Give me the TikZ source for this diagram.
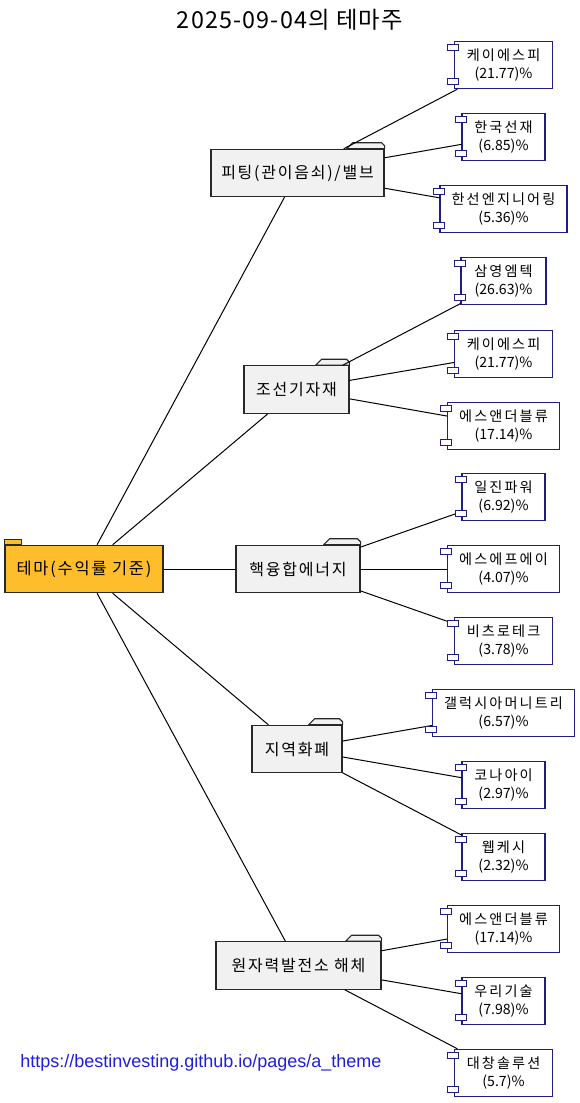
\documentclass[tikz,border=0pt]{standalone}
\usepackage{fontspec}
\setmainfont{Noto Sans CJK KR}
\newfontfamily\krsp[LetterSpace=11]{Noto Sans CJK KR}
\newfontfamily\krleaf[LetterSpace=15]{Noto Sans CJK KR}
\newfontfamily\krtitle[LetterSpace=5]{Noto Sans CJK KR}
\newfontfamily\urlfont{Liberation Sans}
\usetikzlibrary{calc}
\definecolor{rootfill}{RGB}{254,190,44}
\definecolor{foldfill}{RGB}{241,241,241}
\definecolor{foldline}{RGB}{40,40,40}
\definecolor{leafline}{RGB}{30,30,128}
\definecolor{urlblue}{RGB}{30,30,220}
\begin{document}
\begin{tikzpicture}[x=0.75pt,y=-0.75pt,
  conn/.style={draw=black, line width=0.75pt},
  fold/.style={draw=foldline, fill=foldfill, line width=0.85pt, inner sep=0pt,
    font=\krsp\fontsize{12}{14}\selectfont, minimum height=35.5pt},
  rootbox/.style={fold, fill=rootfill, font=\krsp\fontsize{12.3}{14}\selectfont},
  tabshape/.style={draw=foldline, fill=foldfill, line width=0.85pt, line join=round},
  leaf/.style={draw=leafline, fill=white, line width=0.85pt, inner sep=0pt, align=center,
    font=\fontsize{10.6}{13.5}\selectfont, minimum height=35.5pt},
  port/.style={draw=leafline, fill=white, line width=0.75pt}]
\useasboundingbox (0,0) rectangle (580,1103);

% title
\node (title) at (290,20) {\krtitle\fontsize{17.5}{20}\selectfont 2025-09-04의 테마주};

% root
\node[rootbox, minimum width=118.5pt] (root) at (84,569) {테마(수익률 기준)};
\draw[tabshape, fill=rootfill] (root.north west) rectangle ++(17,-5);

% level 1 folders
\node[fold, minimum width=129.75pt] (f1) at (297.5,173) {피팅(관이음쇠)/밸브};
\node[fold, minimum width=78.75pt] (f2) at (296.5,389.5) {조선기자재};
\node[fold, minimum width=93pt] (f3) at (298,569) {핵융합에너지};
\node[fold, minimum width=67.5pt] (f4) at (297,749) {지역화폐};
\node[fold, minimum width=123.75pt] (f5) at (298.5,965.5) {원자력발전소 해체};

\foreach \f/\w in {f1/38,f2/34,f3/37,f4/34,f5/36}{
  \draw[tabshape] ($(\f.north east)+(-\w,0)$) -- ++(6,-6) -- ++(\w-9,0) -- ++(3,3) -- (\f.north east) -- cycle;
}

% leaves
\node[leaf, minimum width=73.5pt] (a1) at (503.5,65) {{\krleaf 케이에스피}\\(21.77)\%};
\node[leaf, minimum width=62.25pt] (a2) at (503.5,137) {{\krleaf 한국선재}\\(6.85)\%};
\node[leaf, minimum width=95.25pt] (a3) at (503.5,209) {{\krleaf 한선엔지니어링}\\(5.36)\%};

\node[leaf, minimum width=63.75pt] (b1) at (503.5,281) {{\krleaf 삼영엠텍}\\(26.63)\%};
\node[leaf, minimum width=73.5pt] (b2) at (503.5,354) {{\krleaf 케이에스피}\\(21.77)\%};
\node[leaf, minimum width=84pt] (b3) at (503.5,426) {{\krleaf 에스앤더블류}\\(17.14)\%};

\node[leaf, minimum width=62.25pt] (c1) at (503.5,497) {{\krleaf 일진파워}\\(6.92)\%};
\node[leaf, minimum width=84pt] (c2) at (503.5,569) {{\krleaf 에스에프에이}\\(4.07)\%};
\node[leaf, minimum width=73.5pt] (c3) at (503.5,641) {{\krleaf 비츠로테크}\\(3.78)\%};

\node[leaf, minimum width=106.5pt] (d1) at (503.5,713) {{\krleaf 갤럭시아머니트리}\\(6.57)\%};
\node[leaf, minimum width=62.25pt] (d2) at (503.5,785) {{\krleaf 코나아이}\\(2.97)\%};
\node[leaf, minimum width=62.25pt] (d3) at (503.5,857) {{\krleaf 웹케시}\\(2.32)\%};

\node[leaf, minimum width=84pt] (e1) at (503.5,929) {{\krleaf 에스앤더블류}\\(17.14)\%};
\node[leaf, minimum width=62.25pt] (e2) at (503.5,1001) {{\krleaf 우리기술}\\(7.98)\%};
\node[leaf, minimum width=73.5pt] (e3) at (503.5,1073) {{\krleaf 대창솔루션}\\(5.7)\%};

% connectors
\foreach \f in {f1,f2,f3,f4,f5}{ \draw[conn] (root) -- (\f); }
\foreach \l in {a1,a2,a3}{ \draw[conn] (f1) -- (\l); }
\foreach \l in {b1,b2,b3}{ \draw[conn] (f2) -- (\l); }
\foreach \l in {c1,c2,c3}{ \draw[conn] (f3) -- (\l); }
\foreach \l in {d1,d2,d3}{ \draw[conn] (f4) -- (\l); }
\foreach \l in {e1,e2,e3}{ \draw[conn] (f5) -- (\l); }

% component ports
\foreach \l in {a1,a2,a3,b1,b2,b3,c1,c2,c3,d1,d2,d3,e1,e2,e3}{
  \draw[port] ($(\l.north west)+(-6,4)$) rectangle ++(11,6);
  \draw[port] ($(\l.south west)+(-6,-11)$) rectangle ++(11,6);
}

% url
\node[anchor=west, inner sep=0pt, text=urlblue, font=\urlfont\fontsize{13.5}{16}\selectfont] (url) at (20,1063) {https://bestinvesting.github.io/pages/a\_theme};
\end{tikzpicture}
\end{document}
